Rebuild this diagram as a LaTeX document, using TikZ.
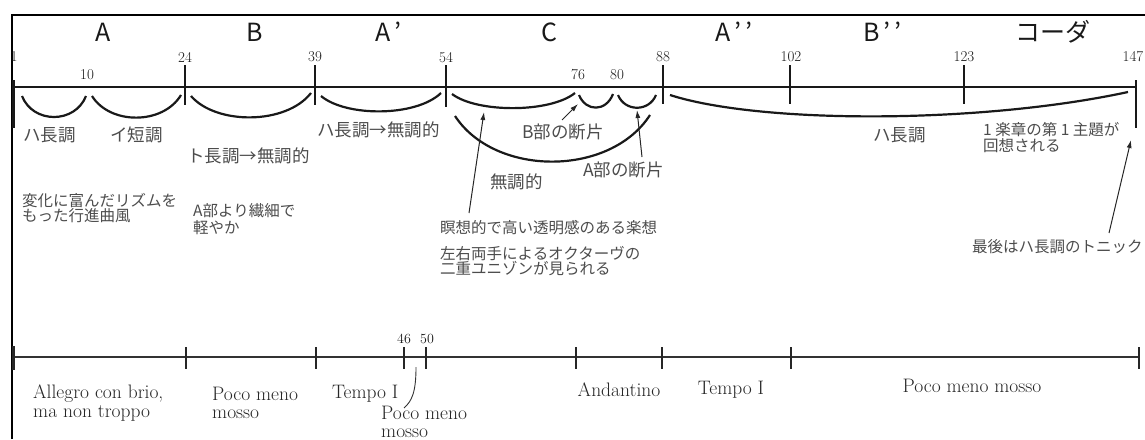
\documentclass[tikz,border=0pt]{standalone}
\usepackage{fontspec}
\newfontfamily\jp{Noto Sans CJK JP}
\usetikzlibrary{arrows.meta}
\begin{document}
\begin{tikzpicture}[x=1pt,y=-1pt,
  frameline/.style={line width=1.2pt,black},
  mainline/.style={line width=2.6pt,black!90},
  tickline/.style={line width=2.6pt,black!90},
  arcline/.style={line width=2.2pt,black!90},
  lowline/.style={line width=1.8pt,black!80},
  lowtick/.style={line width=2pt,black!85},
  pointer/.style={line width=1pt,black!85,-{Latex[length=8pt,width=5pt]}},
  thinlink/.style={line width=0.9pt,black!80},
  sec/.style={font=\jp\fontsize{25}{25}\selectfont,text=black!90,inner sep=0pt},
  num/.style={font=\fontsize{15}{15}\selectfont,text=black!90,inner sep=0pt},
  key/.style={font=\jp\fontsize{17.5}{18}\selectfont,text=black!70,inner sep=0pt,anchor=west},
  desc/.style={font=\jp\fontsize{15.5}{16}\selectfont,text=black!70,inner sep=0pt,anchor=west,align=left},
  tempo/.style={font=\fontsize{19.5}{18.5}\selectfont,text=black!85,inner sep=0pt,align=left}]
\useasboundingbox (0,0) rectangle (1145,439);
% frame
\coordinate (fbl) at (12,439);
\coordinate (ftl) at (12,15);
\coordinate (ftr) at (1145,15);
\draw[frameline] (fbl) -- (ftl) -- (ftr);
% section letters
\node[sec] (sA) at (103,32) {A};
\node[sec] (sB) at (255,32) {B};
\node[sec,anchor=west] (sA1) at (375,32) {A\,’};
\node[sec] (sC) at (549,32) {C};
\node[sec,anchor=west] (sA2) at (715,32) {A\,’\,’};
\node[sec,anchor=west] (sB2) at (863,32) {B\,’\,’};
\node[sec] (sCoda) at (1053,32) {コーダ};
% main line
\coordinate (L0) at (13,87);
\coordinate (L1) at (1137,87);
\draw[mainline] (L0) -- (L1);
% ticks
\coordinate (t1a) at (13.5,80); \coordinate (t1b) at (13.5,128);
\coordinate (t24a) at (185,65); \coordinate (t24b) at (185,105);
\coordinate (t39a) at (315,65); \coordinate (t39b) at (315,105);
\coordinate (t54a) at (446,65); \coordinate (t54b) at (446,107);
\coordinate (t88a) at (663,65); \coordinate (t88b) at (663,104);
\coordinate (t102a) at (790,65); \coordinate (t102b) at (790,104);
\coordinate (t123a) at (964,65); \coordinate (t123b) at (964,104);
\coordinate (t147a) at (1136,80); \coordinate (t147b) at (1136,128);
\foreach \t in {1,24,39,54,88,102,123,147} {\draw[tickline] (t\t a) -- (t\t b);}
% numbers
\node[num] (n1) at (14,57) {1};
\node[num] (n10) at (87,75) {10};
\node[num] (n24) at (185,57) {24};
\node[num] (n39) at (315,57) {39};
\node[num] (n54) at (446,58) {54};
\node[num] (n76) at (578,75) {76};
\node[num] (n80) at (617,75) {80};
\node[num] (n88) at (663,57) {88};
\node[num] (n102) at (791,57) {102};
\node[num] (n123) at (964,57) {123};
\node[num] (n147) at (1133,57) {147};
% arcs
\coordinate (a1s) at (22,96);  \coordinate (a1e) at (86,96);
\coordinate (a2s) at (92,96);  \coordinate (a2e) at (181,95);
\coordinate (a3s) at (191,96); \coordinate (a3e) at (311,93);
\coordinate (a4s) at (321,96); \coordinate (a4e) at (441,93);
\coordinate (a5s) at (452,94); \coordinate (a5e) at (575,93);
\coordinate (a6s) at (579,95); \coordinate (a6e) at (613,94);
\coordinate (a7s) at (618,95); \coordinate (a7e) at (656,95);
\coordinate (a8s) at (455,116); \coordinate (a8e) at (650,115);
\coordinate (a9s) at (670,95); \coordinate (a9e) at (1128,92);
\draw[arcline] (a1s) .. controls +(11,28) and +(-11,28) .. (a1e);
\draw[arcline] (a2s) .. controls +(18,29) and +(-18,30) .. (a2e);
\draw[arcline] (a3s) .. controls +(25,29) and +(-25,32) .. (a3e);
\draw[arcline] (a4s) .. controls +(25,21) and +(-25,24) .. (a4e);
\draw[arcline] (a5s) .. controls +(25,19) and +(-25,20) .. (a5e);
\draw[arcline] (a6s) .. controls +(7,17) and +(-7,18) .. (a6e);
\draw[arcline] (a7s) .. controls +(7,17) and +(-7,17) .. (a7e);
\draw[arcline] (a8s) .. controls +(40,61) and +(-40,62) .. (a8e);
\draw[arcline] (a9s) .. controls (760,124) and (980,124) .. (a9e);
% key labels
\node[key] (k1) at (23,135) {ハ長調};
\node[key] (k2) at (110,135) {イ短調};
\node[key] (k3) at (187,156) {ト長調→無調的};
\node[key] (k4) at (317,130) {ハ長調→無調的};
\node[key] (k5) at (522,132) {B部の断片};
\node[key] (k6) at (490,182) {無調的};
\node[key] (k7) at (583,170) {A部の断片};
\node[key] (k8) at (873,135) {ハ長調};
% descriptions
\node[desc] (d1) at (983,138) {1 楽章の第 1 主題が\\回想される};
\node[desc,font=\jp\fontsize{15.5}{14.5}\selectfont] (d2) at (22,208) {変化に富んだリズムを\\もった行進曲風};
\node[desc,font=\jp\fontsize{15.5}{17.5}\selectfont] (d3) at (193,219) {A部より繊細で\\軽やか};
\node[desc] (d4) at (440,228) {瞑想的で高い透明感のある楽想};
\node[desc,font=\jp\fontsize{15.5}{15.5}\selectfont] (d5) at (440,261) {左右両手によるオクターヴの\\二重ユニゾンが見られる};
\node[desc] (d6) at (972,247) {最後はハ長調のトニック};
% pointers
\coordinate (p1s) at (562,120); \coordinate (p1e) at (578,104);
\coordinate (p2s) at (469,213); \coordinate (p2e) at (484,112);
\coordinate (p3s) at (642,157); \coordinate (p3e) at (637,110);
\coordinate (p4s) at (1109,233); \coordinate (p4e) at (1131,140);
\draw[pointer] (p1s) -- (p1e);
\draw[pointer] (p2s) -- (p2e);
\draw[pointer] (p3s) -- (p3e);
\draw[pointer] (p4s) -- (p4e);
% lower timeline
\coordinate (B0) at (12,357);
\coordinate (B1) at (1139,357);
\draw[lowline] (B0) -- (B1);
\coordinate (u1a) at (13,346); \coordinate (u1b) at (13,370);
\foreach \n/\x in {2/186,3/316,4/404,5/426,6/576,7/662,8/791,9/1139} {
  \coordinate (u\n a) at (\x,347); \coordinate (u\n b) at (\x,369);}
\draw[lowtick,line width=3pt] (u1a) -- (u1b);
\foreach \n in {2,...,9} {\draw[lowtick] (u\n a) -- (u\n b);}
\node[num,font=\fontsize{14}{14}\selectfont] (m46) at (404,339) {46};
\node[num,font=\fontsize{14}{14}\selectfont] (m50) at (427,339) {50};
\node[tempo,anchor=west] (w1) at (33,403) {Allegro con brio,\\ma non troppo};
\node[tempo,anchor=west] (w2) at (212,403) {Poco meno\\mosso};
\node[tempo,anchor=west] (w3) at (332,394) {Tempo I};
\node[tempo,anchor=west,font=\fontsize{19.5}{17.5}\selectfont] (w4) at (381,422) {Poco meno\\mosso};
\node[tempo] (w5) at (619,390) {Andantino};
\node[tempo] (w6) at (731,390) {Tempo I};
\node[tempo] (w7) at (972,386) {Poco meno mosso};
\coordinate (c1) at (416,367);
\coordinate (c2) at (404,408);
\draw[thinlink] (c1) .. controls (416,392) and (412,401) .. (c2);
\end{tikzpicture}
\end{document}
